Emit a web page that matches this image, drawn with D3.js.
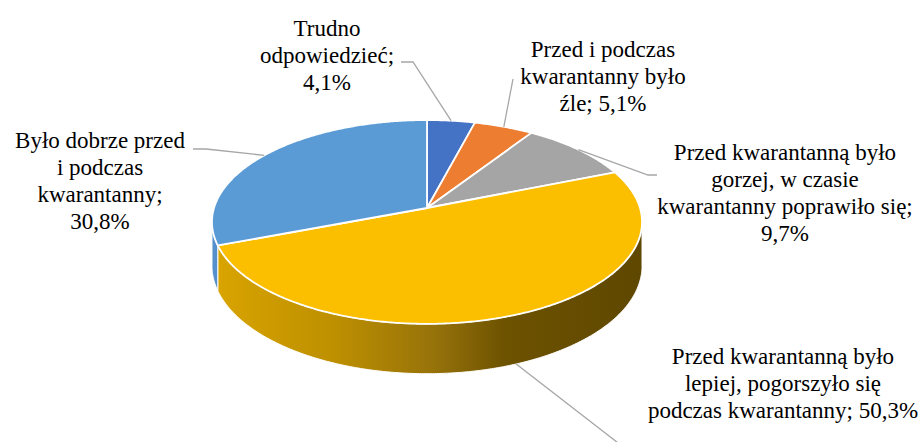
<!DOCTYPE html>
<html><head><meta charset="utf-8">
<script src="https://cdn.jsdelivr.net/npm/d3@7"></script>
<style>
body{margin:0;background:#fff}svg{display:block}
.lab{font-family:"Liberation Serif","Times New Roman",Times,"DejaVu Serif","Noto Serif",serif;font-size:23px;fill:#000}
</style>
</head><body>
<script>
// ---- data ----
const categories = [
  "Trudno odpowiedzieć",
  "Przed i podczas kwarantanny było źle",
  "Przed kwarantanną było gorzej, w czasie kwarantanny poprawiło się",
  "Przed kwarantanną było lepiej, pogorszyło się podczas kwarantanny",
  "Było dobrze przed i podczas kwarantanny"
];
const values = [4.1, 5.1, 9.7, 50.3, 30.8];
const valueLabels = ["4,1%", "5,1%", "9,7%", "50,3%", "30,8%"];
const labelLines = [
  ["Trudno", "odpowiedzieć;", valueLabels[0]],
  ["Przed i podczas", "kwarantanny było", "źle; " + valueLabels[1]],
  ["Przed kwarantanną było", "gorzej, w czasie", "kwarantanny poprawiło się;", valueLabels[2]],
  ["Przed kwarantanną było", "lepiej, pogorszyło się", "podczas kwarantanny; " + valueLabels[3]],
  ["Było dobrze przed", "i podczas", "kwarantanny;", valueLabels[4]]
];
const topColors = ["#4472C4", "#ED7D31", "#A5A5A5", "#FBBF00", "#5B9BD5"];

// ---- layout ----
const W = 924, H = 442;
const cx = 427, cy = 208, R = 213, S = 100, k = 0.137, D = 43;
const labelPos = [
  {x: 327, y: 36}, {x: 603, y: 57}, {x: 785, y: 160}, {x: 783, y: 364}, {x: 100, y: 148}
];
const leaderAnchorDown = [0, 0, 0, 1, 0];
const leaderTail = [
  [[413, 62], [401, 62]],
  [[513, 79]],
  [[648, 175], [657, 175]],
  [[622, 446]],
  [[206, 149], [193, 149]]
];
const lineH = 27;

const svg = d3.select("body").append("svg").attr("width", W).attr("height", H);
const defs = svg.append("defs");

function proj(theta, down) {
  const u = Math.sin(theta), v = Math.cos(theta), w = 1 + k * v;
  return [cx + R * u / w, cy + (-S * v + D * down) / w];
}

const pie = d3.pie().sort(null).value(d => d)(values);

let tR = 0, tL = 0, mx = -1e9, mn = 1e9;
for (let i = 0; i <= 3600; i++) {
  const t = i / 3600 * 2 * Math.PI, x = proj(t, 0)[0];
  if (x > mx) { mx = x; tR = t; }
  if (x < mn) { mn = x; tL = t; }
}

function arcPts(a0, a1, down) {
  const n = Math.max(2, Math.ceil(Math.abs(a1 - a0) / (Math.PI / 360)));
  const pts = [];
  for (let i = 0; i <= n; i++) pts.push(proj(a0 + (a1 - a0) * i / n, down));
  return pts;
}

const sideGrad = [
  null, null, null,
  [["0", "#DAA500"], ["0.28", "#BE9000"], ["0.52", "#96720A"], ["0.68", "#6D5200"], ["1", "#5E4700"]],
  [["0", "#5590CC"], ["1", "#3F74AE"]]
];
sideGrad.forEach((st, i) => {
  if (!st) return;
  const g = defs.append("linearGradient").attr("id", "side" + i)
    .attr("gradientUnits", "userSpaceOnUse")
    .attr("x1", mn).attr("x2", mx).attr("y1", 0).attr("y2", 0);
  st.forEach(s => g.append("stop").attr("offset", s[0]).attr("stop-color", s[1]));
});

const line = d3.line();

const gSide = svg.append("g");
pie.forEach((p, i) => {
  const s0 = Math.max(p.startAngle, tR), s1 = Math.min(p.endAngle, tL);
  if (s1 <= s0) return;
  const top = arcPts(s0, s1, 0), bot = arcPts(s1, s0, 1);
  gSide.append("path")
    .attr("d", line(top.concat(bot)) + "Z")
    .attr("fill", sideGrad[i] ? `url(#side${i})` : d3.color(topColors[i]).darker(0.8))
    .attr("stroke", "#fff").attr("stroke-width", 1).attr("stroke-linejoin", "round");
});

const gTop = svg.append("g");
pie.forEach((p, i) => {
  const pts = [[cx, cy]].concat(arcPts(p.startAngle, p.endAngle, 0));
  gTop.append("path")
    .attr("d", line(pts) + "Z")
    .attr("fill", topColors[i])
    .attr("stroke", "#fff").attr("stroke-width", 1.8).attr("stroke-linejoin", "round");
});

const gLead = svg.append("g");
pie.forEach((p, i) => {
  const mid = (p.startAngle + p.endAngle) / 2;
  const a = proj(mid, leaderAnchorDown[i]);
  gLead.append("path")
    .attr("d", line([a].concat(leaderTail[i])))
    .attr("fill", "none").attr("stroke", "#A6A6A6").attr("stroke-width", 1.3);
});

const gLab = svg.append("g").attr("class", "lab").attr("text-anchor", "middle");
labelLines.forEach((lines, i) => {
  const t = gLab.append("text").attr("x", labelPos[i].x).attr("y", labelPos[i].y);
  lines.forEach((l, j) => t.append("tspan").attr("x", labelPos[i].x).attr("dy", j === 0 ? 0 : lineH).text(l));
});
</script>
</body></html>
